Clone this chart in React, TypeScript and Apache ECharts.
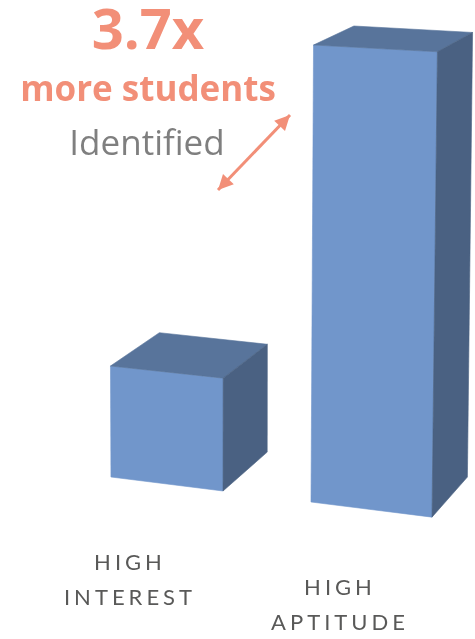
import React, { useEffect, useRef } from "react";
import * as echarts from "echarts";

// ---- data ----
const categories: string[] = ["HIGH\nINTEREST", "HIGH\nAPTITUDE"];
const values: number[] = [27, 100];
const annotationMultiplier = "3.7x";
const annotationLine2 = "more students";
const annotationLine3 = "Identified";

const SALMON = "#F28F78";
const LABEL_GRAY = "#595958";
const FRONT = "#7196CB";
const TOP = "#58749B";
const SIDE = "#4A6182";

function renderItem(params: any, api: any) {
  const i = api.value(0);
  const v = api.value(1);
  const base = api.coord([i, 0]);
  const top = api.coord([i, v]);
  const c1 = api.coord([0, 0])[0];
  const band = api.size([1, 0])[0];
  const c = base[0];
  const y0 = base[1];
  const H = y0 - top[1];
  // simple perspective model
  const pw = 1 + (c - c1) * 0.00039;
  const ph = 1 + (c - c1) * 0.00055;
  const w = band * 0.548 * pw;
  const uL = c - w / 2;
  const uR = c + w / 2;
  const yb = (u: number) => y0 + 0.125 * (u - c1);
  const hh = (u: number) => H * ph * (1 + 0.00015 * (u - c));
  const lean = (u: number) => (u - c1 - 33) * 0.00005;
  const BL = [uL, yb(uL)];
  const BR = [uR, yb(uR)];
  const TL = [uL + lean(uL) * hh(uL), yb(uL) - hh(uL)];
  const TR = [uR + lean(uR) * hh(uR), yb(uR) - hh(uR)];
  const depth = (p: number[]) => [
    p[0] + 49 - 0.042 * (p[0] - 108),
    p[1] - (19 + 0.0446 * (p[1] - 45)),
  ];
  const TLb = depth(TL);
  const TRb = depth(TR);
  const BRb = depth(BR);
  const lx = c - 39 + (c - c1) * 0.027 + 2;
  const ly = yb(c) + 59.5;
  return {
    type: "group",
    children: [
      {
        type: "polygon",
        shape: { points: [BL, BR, TR, TL] },
        style: { fill: FRONT, stroke: FRONT, lineWidth: 0.6 },
      },
      {
        type: "polygon",
        shape: { points: [TL, TR, TRb, TLb] },
        style: { fill: TOP, stroke: TOP, lineWidth: 0.6 },
      },
      {
        type: "polygon",
        shape: { points: [TR, BR, BRb, TRb] },
        style: { fill: SIDE, stroke: SIDE, lineWidth: 0.6 },
      },
      {
        type: "text",
        style: {
          text: categories[i],
          x: lx,
          y: ly,
          align: "center",
          verticalAlign: "top",
          fontFamily: "Lato",
          fontSize: 22,
          lineHeight: 35,
          fill: LABEL_GRAY,
        },
      },
    ],
  };
}

function arrowHead(tip: number[], from: number[], len: number, half: number) {
  const dx = tip[0] - from[0];
  const dy = tip[1] - from[1];
  const L = Math.sqrt(dx * dx + dy * dy);
  const ux = dx / L;
  const uy = dy / L;
  const bx = tip[0] - ux * len;
  const by = tip[1] - uy * len;
  return [
    [tip[0], tip[1]],
    [bx - uy * half, by + ux * half],
    [bx + uy * half, by - ux * half],
  ];
}

export default function App() {
  const ref = useRef<HTMLDivElement>(null);
  useEffect(() => {
    if (!ref.current) return;
    const chart = echarts.init(ref.current, null, { renderer: "svg" });
    const a = [218, 190];
    const b = [290, 115];
    chart.setOption({
      animation: false,
      grid: { left: 64.75, right: 1.25, top: 28, bottom: 155 },
      xAxis: { type: "category", data: categories, show: false },
      yAxis: { type: "value", min: 0, max: 110, show: false },
      series: [
        {
          type: "custom",
          renderItem,
          data: values.map((v, i) => [i, v]),
        },
      ],
      graphic: [
        {
          type: "text",
          style: {
            text: annotationMultiplier,
            x: 148,
            y: 27,
            align: "center",
            verticalAlign: "middle",
            fontFamily: "Open Sans",
            fontWeight: "bold",
            fontSize: 56,
            lineHeight: 42,
            fill: SALMON,
          },
        },
        {
          type: "text",
          style: {
            text: annotationLine2,
            x: 148,
            y: 87,
            align: "center",
            verticalAlign: "middle",
            fontFamily: "Open Sans",
            fontWeight: "bold",
            fontSize: 35,
            fill: SALMON,
          },
        },
        {
          type: "text",
          style: {
            text: annotationLine3,
            x: 147,
            y: 141,
            align: "center",
            verticalAlign: "middle",
            fontFamily: "Open Sans",
            fontSize: 35,
            fill: "#7F7F7F",
          },
        },
        {
          type: "line",
          shape: { x1: a[0], y1: a[1], x2: b[0], y2: b[1] },
          style: { stroke: SALMON, lineWidth: 3 },
        },
        {
          type: "polygon",
          shape: { points: arrowHead(b, a, 15, 7.5) },
          style: { fill: SALMON },
        },
        {
          type: "polygon",
          shape: { points: arrowHead(a, b, 15, 7.5) },
          style: { fill: SALMON },
        },
      ],
    });
    return () => chart.dispose();
  }, []);
  return (
    <>
      <style>{`text[fill="${LABEL_GRAY}"], text[style*="Lato"] { letter-spacing: 4px; }`}</style>
      <div
        ref={ref}
        style={{ position: "fixed", left: 0, top: 0, width: 475, height: 639 }}
      />
    </>
  );
}
